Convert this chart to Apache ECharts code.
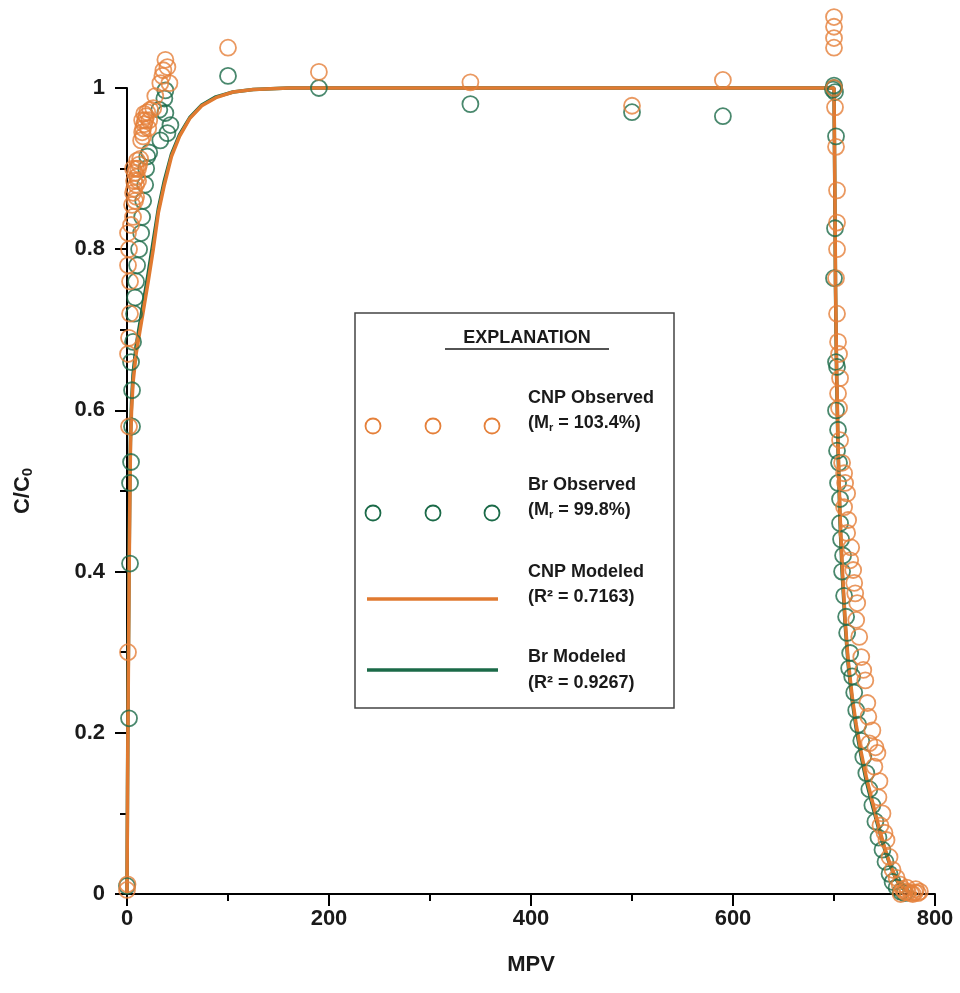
<!DOCTYPE html>
<html>
<head>
<meta charset="utf-8">
<script src="https://cdn.jsdelivr.net/npm/echarts@6/dist/echarts.min.js"></script>
<style>html,body{margin:0;padding:0;background:#fff;}#c{width:960px;height:993px;}</style>
</head>
<body>
<div id="c"></div>
<script>
// ---------------- data (MPV, C/C0) ----------------
var xTicks = [0, 200, 400, 600, 800];
var yTicks = [0, 0.2, 0.4, 0.6, 0.8, 1];

var cnpObserved = [
  [0,0.005],[0.5,0.012],[1,0.30],[2,0.58],[1,0.67],[2,0.69],[3,0.72],[3,0.76],[1,0.78],[2,0.80],
  [1,0.82],[4,0.83],[6,0.84],[5,0.855],[8,0.86],[7,0.875],[9,0.88],[10,0.89],[8,0.895],[11,0.90],
  [12,0.905],[10,0.91],[13,0.912],[6,0.87],[7,0.885],[9,0.9],[11,0.885],[6,0.9],[9,0.865],
  [14,0.935],[15,0.945],[16,0.95],[17,0.955],[18,0.96],[19,0.965],[15,0.96],[17,0.968],[16,0.94],
  [20,0.97],[22,0.96],[21,0.95],[23,0.973],[26,0.975],[28,0.99],[33,1.006],[36,1.022],[38,1.035],
  [40,1.026],[42,1.006],[35,1.015],
  [100,1.05],[190,1.02],[340,1.007],[500,0.978],[590,1.01],
  [700,1.088],[700,1.076],[700,1.062],[700,1.05],[700,1.0],[701,0.976],[702,0.927],[703,0.873],
  [703,0.833],[703,0.80],[702,0.764],[703,0.72],[704,0.685],[705,0.67],[706,0.64],[704,0.621],
  [705,0.603],[706,0.563],[708,0.535],[710,0.522],[711,0.51],[713,0.497],[710,0.48],[714,0.464],
  [713,0.448],[717,0.43],[716,0.414],[719,0.402],[720,0.386],[721,0.373],[723,0.361],[722,0.34],
  [725,0.319],[727,0.294],[729,0.278],[731,0.265],[733,0.237],[734,0.22],[738,0.203],[735,0.187],
  [741,0.182],[743,0.175],[740,0.158],[745,0.14],[744,0.12],[748,0.10],[746,0.085],[750,0.076],
  [752,0.067],[755,0.046],[758,0.03],[762,0.02],[765,0.012],[768,0.006],[770,0.003],[773,0.002],
  [776,0.001],[778,0.0],[780,0.002],[766,0.0],[772,0.008],[783,0.001],[785,0.003],[781,0.006]
];

var brObserved = [
  [0,0.01],[2,0.218],[3,0.41],[3,0.51],[4,0.536],[5,0.58],[5,0.625],[4,0.66],[6,0.685],[7,0.72],
  [8,0.74],[9,0.76],[10,0.78],[12,0.80],[14,0.82],[15,0.84],[16,0.86],[18,0.88],[19,0.90],
  [20,0.915],[22,0.92],[33,0.935],[40,0.944],[43,0.954],[38,0.969],[32,0.973],[37,0.987],[38,0.997],
  [100,1.015],[190,1.0],[340,0.98],[500,0.97],[590,0.965],
  [700,1.0],[700,1.003],[699,0.998],[701,0.995],[702,0.94],[701,0.826],[700,0.764],[702,0.66],
  [703,0.654],[702,0.60],[704,0.576],[703,0.55],[705,0.535],[704,0.51],[706,0.49],[706,0.46],
  [707,0.44],[709,0.42],[708,0.40],[710,0.37],[712,0.344],[713,0.324],[716,0.299],[715,0.28],
  [718,0.27],[720,0.25],[722,0.228],[724,0.21],[727,0.19],[729,0.17],[732,0.15],[735,0.13],
  [738,0.11],[741,0.09],[744,0.07],[748,0.055],[751,0.04],[755,0.025],[758,0.015],[762,0.008],
  [766,0.003],[770,0.001]
];

var cnpModeled = [
  [0,0],[0.5,0.12],[1,0.22],[1.5,0.30],[2,0.38],[2.5,0.45],[3,0.51],[3.5,0.56],[4.5,0.60],[6,0.635],
  [9,0.67],[13,0.70],[17,0.73],[21,0.76],[26,0.80],[31,0.845],[37,0.88],[44,0.915],[52,0.94],
  [62,0.962],[74,0.978],[88,0.988],[105,0.995],[125,0.998],[160,1],[300,1],[500,1],[700,1],
  [700.5,0.93],[701,0.85],[701.5,0.76],[702.5,0.66],[704,0.56],[706,0.47],[708,0.41],[711,0.34],
  [714,0.29],[718,0.245],[722,0.21],[727,0.175],[732,0.145],[738,0.115],[744,0.085],[750,0.058],
  [756,0.035],[762,0.018],[768,0.008],[775,0.002],[782,0]
];

var brModeled = [
  [0,0],[0.5,0.13],[1,0.24],[1.5,0.32],[2,0.40],[2.5,0.47],[3,0.53],[3.5,0.57],[4.5,0.61],[6,0.645],
  [9,0.68],[13,0.71],[17,0.74],[21,0.77],[26,0.81],[31,0.85],[37,0.885],[44,0.918],[52,0.942],
  [62,0.963],[74,0.979],[88,0.989],[105,0.995],[125,0.998],[160,1],[300,1],[500,1],[700,1],
  [700.5,0.92],[701,0.84],[701.5,0.75],[702.5,0.65],[704,0.55],[706,0.46],[708,0.40],[711,0.335],
  [714,0.285],[718,0.24],[722,0.205],[727,0.17],[732,0.14],[738,0.11],[744,0.082],[750,0.056],
  [756,0.034],[762,0.017],[768,0.007],[775,0.002],[782,0]
];

var ORANGE = '#E5803A';
var ORANGE_LINE = '#E07A30';
var GREEN = '#1B6A48';
var TXT = '#1a1a1a';
var FONT = '"Liberation Sans", Arial, sans-serif';

var chart = echarts.init(document.getElementById('c'), null, {renderer: 'canvas'});

function legendItems() {
  var g = [];
  g.push({type:'rect', shape:{x:355, y:313, width:319, height:395}, style:{fill:'#fff', stroke:'#444', lineWidth:1.5}, z:10});
  g.push({type:'text', x:527, y:338, style:{text:'EXPLANATION', fontFamily:FONT, fontWeight:'bold', fontSize:18, fill:TXT, align:'center', verticalAlign:'middle'}, z:11});
  g.push({type:'line', shape:{x1:445, y1:349, x2:609, y2:349}, style:{stroke:TXT, lineWidth:1.5}, z:11});
  var rich = {
    b:{fontFamily:FONT, fontWeight:'bold', fontSize:18, fill:TXT, color:TXT},
    s:{fontFamily:FONT, fontWeight:'bold', fontSize:11, fill:TXT, color:TXT, padding:[10,0,0,0]}
  };
  var rows = [
    {y1:398, y2:423, t1:'CNP Observed', t2:'{b|(M}{s|r}{b| = 103.4%)}', mark:'circ', col:ORANGE, my:426},
    {y1:485, y2:510, t1:'Br Observed', t2:'{b|(M}{s|r}{b| = 99.8%)}', mark:'circ', col:GREEN, my:513},
    {y1:572, y2:597, t1:'CNP Modeled', t2:'{b|(R² = 0.7163)}', mark:'line', col:ORANGE_LINE, my:599},
    {y1:657, y2:683, t1:'Br Modeled', t2:'{b|(R² = 0.9267)}', mark:'line', col:GREEN, my:670}
  ];
  rows.forEach(function(r){
    g.push({type:'text', x:528, y:r.y1, style:{text:r.t1, fontFamily:FONT, fontWeight:'bold', fontSize:18, fill:TXT, verticalAlign:'middle'}, z:11});
    g.push({type:'text', x:528, y:r.y2, style:{text:r.t2, rich:rich, verticalAlign:'middle'}, z:11});
    if (r.mark === 'circ') {
      [373, 433, 492].forEach(function(cx){
        g.push({type:'circle', shape:{cx:cx, cy:r.my, r:7.5}, style:{fill:'none', stroke:r.col, lineWidth:1.8}, z:11});
      });
    } else {
      g.push({type:'line', shape:{x1:367, y1:r.my, x2:498, y2:r.my}, style:{stroke:r.col, lineWidth:3.5}, z:11});
    }
  });
  return g;
}

var axisFont = {fontFamily:FONT, fontWeight:'bold', fontSize:22, color:TXT};

chart.setOption({
  animation: false,
  backgroundColor: '#fff',
  grid: {left:127, right:25, top:88, bottom:99, containLabel:false},
  xAxis: {
    type:'value', min:0, max:800, interval:200,
    axisLine:{show:true, lineStyle:{color:'#000', width:2}},
    axisTick:{show:true, length:12, lineStyle:{color:'#000', width:2}},
    minorTick:{show:true, splitNumber:2, length:7, lineStyle:{color:'#000', width:2}},
    splitLine:{show:false},
    axisLabel:Object.assign({margin:14, formatter:function(v){return String(v);}}, axisFont),
    name:'MPV', nameLocation:'middle', nameGap:60,
    nameTextStyle:{fontFamily:FONT, fontWeight:'bold', fontSize:22, color:TXT}
  },
  yAxis: {
    type:'value', min:0, max:1, interval:0.2,
    axisLine:{show:true, lineStyle:{color:'#000', width:2}},
    axisTick:{show:true, length:12, lineStyle:{color:'#000', width:2}},
    minorTick:{show:true, splitNumber:2, length:7, lineStyle:{color:'#000', width:2}},
    splitLine:{show:false},
    axisLabel:Object.assign({margin:22, formatter:function(v){ if (v===0) return '0'; if (Math.abs(v-1)<1e-9) return '1'; return v.toFixed(1);} }, axisFont),
    name:'C/C{s|0}', nameLocation:'middle', nameGap:92,
    nameTextStyle:{fontFamily:FONT, fontWeight:'bold', fontSize:22, color:TXT,
      rich:{s:{fontFamily:FONT, fontWeight:'bold', fontSize:15, color:TXT, padding:[9,0,0,0]}}}
  },
  series: [
    {type:'line', name:'Br Modeled', data:brModeled, showSymbol:false, symbol:'none', clip:false,
     lineStyle:{color:GREEN, width:3.5}, z:2},
    {type:'line', name:'CNP Modeled', data:cnpModeled, showSymbol:false, symbol:'none', clip:false,
     lineStyle:{color:ORANGE_LINE, width:3.5}, z:3},
    {type:'scatter', name:'Br Observed', data:brObserved, symbol:'circle', symbolSize:16, clip:false,
     itemStyle:{color:'rgba(0,0,0,0)', borderColor:GREEN, borderWidth:1.8}, z:4},
    {type:'scatter', name:'CNP Observed', data:cnpObserved, symbol:'circle', symbolSize:16, clip:false,
     itemStyle:{color:'rgba(0,0,0,0)', borderColor:ORANGE, borderWidth:1.8}, z:5}
  ],
  graphic: legendItems()
});
</script>
</body>
</html>
